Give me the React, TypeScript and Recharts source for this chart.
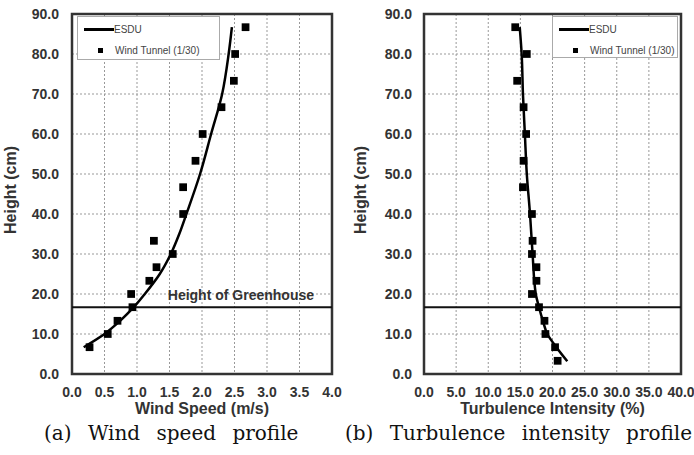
import {
  CartesianGrid,
  ComposedChart,
  Legend,
  Line,
  ReferenceArea,
  ReferenceLine,
  Scatter,
  XAxis,
  YAxis,
  ZAxis,
} from "recharts";

// wind tunnel measurement heights (cm)
const tunnelHeights = [6.7, 10, 13.3, 16.7, 20, 23.3, 26.7, 30, 33.3, 40, 46.7, 53.3, 60, 66.7, 73.3, 80, 86.7];
const tunnelSpeeds = [0.27, 0.55, 0.7, 0.93, 0.91, 1.19, 1.3, 1.55, 1.26, 1.71, 1.71, 1.9, 2.01, 2.3, 2.49, 2.51, 2.67];

const tiHeights = [3.3, 6.7, 10, 13.3, 16.7, 20, 23.3, 26.7, 30, 33.3, 40, 46.7, 53.3, 60, 66.7, 73.3, 80, 86.7];
const tunnelTI = [20.8, 20.4, 18.9, 18.75, 17.9, 16.8, 17.5, 17.5, 16.8, 16.9, 16.8, 15.4, 15.5, 15.9, 15.5, 14.5, 16.0, 14.2];

// ESDU reference profiles
const esduSpeedHeights = [6.7, 10, 13.3, 16.7, 20, 25, 30, 35, 40, 50, 60, 70, 80, 86.7];
const esduSpeeds = [0.18, 0.5, 0.74, 0.95, 1.12, 1.35, 1.52, 1.65, 1.76, 1.97, 2.14, 2.31, 2.41, 2.46];

const esduTIHeights = [3.2, 6.7, 10, 13.3, 16.7, 20, 30, 40, 50, 60, 70, 80, 86.7];
const esduTI = [22.3, 20.6, 19.2, 18.5, 17.9, 17.4, 16.9, 16.5, 16.0, 15.7, 15.4, 15.2, 14.9];

const greenhouseHeight = 16.7;

const heightTicks = [0, 10, 20, 30, 40, 50, 60, 70, 80, 90];
const speedTicks = [0, 0.5, 1, 1.5, 2, 2.5, 3, 3.5, 4];
const tiTicks = [0, 5, 10, 15, 20, 25, 30, 35, 40];

const pairs = (xs: number[], ys: number[]) => xs.map((x, i) => ({ x, y: ys[i] }));

const AXIS_FONT = "Arial, 'Liberation Sans', sans-serif";
const INK = "#333";

function YTitle({ cx }: { cx: number }) {
  return (
    <text
      x={cx}
      y={190}
      transform={`rotate(-90 ${cx} 190)`}
      textAnchor="middle"
      dominantBaseline="central"
      fontFamily={AXIS_FONT}
      fontWeight="bold"
      fontSize={16}
      fill={INK}
    >
      Height (cm)
    </text>
  );
}

function XTitle(props: any) {
  const { viewBox, value } = props;
  return (
    <text
      x={viewBox.x + viewBox.width / 2}
      y={414}
      textAnchor="middle"
      fontFamily={AXIS_FONT}
      fontWeight="bold"
      fontSize={16}
      fill={INK}
    >
      {value}
    </text>
  );
}

function GreenhouseLabel(props: any) {
  const { viewBox } = props;
  return (
    <text
      x={viewBox.x + viewBox.width - 18}
      y={viewBox.y - 7}
      textAnchor="end"
      fontFamily={AXIS_FONT}
      fontWeight="bold"
      fontSize={14}
      fill={INK}
    >
      Height of Greenhouse
    </text>
  );
}

function LegendBox({ width, height }: { width: number; height: number }) {
  return (
    <div
      style={{
        width,
        height,
        boxSizing: "border-box",
        border: "1px solid #aaa",
        background: "#fff",
        fontFamily: AXIS_FONT,
        fontSize: 10,
        color: "#444",
        position: "relative",
      }}
    >
      <div style={{ position: "absolute", left: 6, top: 11, width: 30, height: 2.5, background: "#000" }} />
      <div style={{ position: "absolute", left: 36, top: 7, lineHeight: "12px" }}>ESDU</div>
      <div style={{ position: "absolute", left: 20, top: 31, width: 5, height: 5, background: "#000" }} />
      <div style={{ position: "absolute", left: 37, top: 28, lineHeight: "12px", whiteSpace: "nowrap" }}>
        Wind Tunnel (1/30)
      </div>
    </div>
  );
}

type ProfileProps = {
  left: number;
  width: number;
  marginLeft: number;
  tickGap: number;
  yTitleX: number;
  xMax: number;
  xTicks: number[];
  xTitle: string;
  tunnel: { x: number; y: number }[];
  esdu: { x: number; y: number }[];
  legend: { left: number; width: number; height: number };
  showLabel: boolean;
};

function ProfileChart(p: ProfileProps) {
  return (
    <div style={{ position: "absolute", left: p.left, top: 0 }}>
      <ComposedChart
        width={p.width}
        height={455}
        margin={{ top: 14, right: 13, bottom: 41, left: p.marginLeft }}
      >
        <CartesianGrid stroke="#999" strokeDasharray="2 2" />
        <XAxis
          type="number"
          dataKey="x"
          domain={[0, p.xMax]}
          ticks={p.xTicks}
          interval={0}
          allowDataOverflow
          height={40}
          tickSize={0}
          tickMargin={13}
          axisLine={false}
          tickLine={false}
          tickFormatter={(v: number) => v.toFixed(1)}
          tick={{ fontFamily: AXIS_FONT, fontWeight: "bold", fontSize: 14, fill: INK }}
          label={<XTitle value={p.xTitle} />}
        />
        <YAxis
          type="number"
          dataKey="y"
          domain={[0, 90]}
          ticks={heightTicks}
          interval={0}
          allowDataOverflow
          width={60}
          tickSize={0}
          tickMargin={p.tickGap}
          axisLine={false}
          tickLine={false}
          tickFormatter={(v: number) => v.toFixed(1)}
          tick={{ fontFamily: AXIS_FONT, fontWeight: "bold", fontSize: 14, fill: INK }}
          label={<YTitle cx={p.yTitleX} />}
        />
        <ZAxis range={[60, 60]} />
        <ReferenceLine
          y={greenhouseHeight}
          stroke="#111"
          strokeWidth={2}
          label={p.showLabel ? <GreenhouseLabel /> : undefined}
        />
        <Line
          data={p.esdu}
          dataKey="y"
          type="monotoneY"
          stroke="#000"
          strokeWidth={2.5}
          dot={false}
          name="ESDU"
          isAnimationActive={false}
        />
        <Scatter
          data={p.tunnel}
          fill="#000"
          shape="square"
          name="Wind Tunnel (1/30)"
          isAnimationActive={false}
        />
        <ReferenceArea
          x1={0}
          x2={p.xMax}
          y1={0}
          y2={90}
          fill="none"
          stroke={INK}
          strokeWidth={2.5}
          ifOverflow="visible"
        />
        <Legend
          layout="vertical"
          align="center"
          verticalAlign="middle"
          wrapperStyle={{ left: p.legend.left, top: 16, width: p.legend.width, height: p.legend.height }}
          content={() => <LegendBox width={p.legend.width} height={p.legend.height} />}
        />
      </ComposedChart>
    </div>
  );
}

const captionStyle = {
  position: "absolute" as const,
  top: 423,
  fontFamily: "'DejaVu Serif', 'Liberation Serif', serif",
  fontSize: 20,
  lineHeight: "20px",
  color: "#111",
  whiteSpace: "nowrap" as const,
  wordSpacing: 10,
};

export default function App() {
  return (
    <div
      style={{
        position: "absolute",
        left: 0,
        top: 0,
        width: 694,
        height: 455,
        background: "#fff",
        overflow: "hidden",
      }}
    >
      <ProfileChart
        left={0}
        width={345}
        marginLeft={12}
        tickGap={13}
        yTitleX={10}
        xMax={4}
        xTicks={speedTicks}
        xTitle="Wind Speed (m/s)"
        tunnel={pairs(tunnelSpeeds, tunnelHeights)}
        esdu={pairs(esduSpeeds, esduSpeedHeights)}
        legend={{ left: 77, width: 143, height: 44 }}
        showLabel
      />
      <ProfileChart
        left={344}
        width={350}
        marginLeft={20}
        tickGap={12}
        yTitleX={16}
        xMax={40}
        xTicks={tiTicks}
        xTitle="Turbulence Intensity (%)"
        tunnel={pairs(tunnelTI, tiHeights)}
        esdu={pairs(esduTI, esduTIHeights)}
        legend={{ left: 208, width: 126, height: 42 }}
        showLabel={false}
      />
      <div style={{ ...captionStyle, left: 44 }}>(a) Wind speed profile</div>
      <div style={{ ...captionStyle, left: 345 }}>(b) Turbulence intensity profile</div>
    </div>
  );
}
